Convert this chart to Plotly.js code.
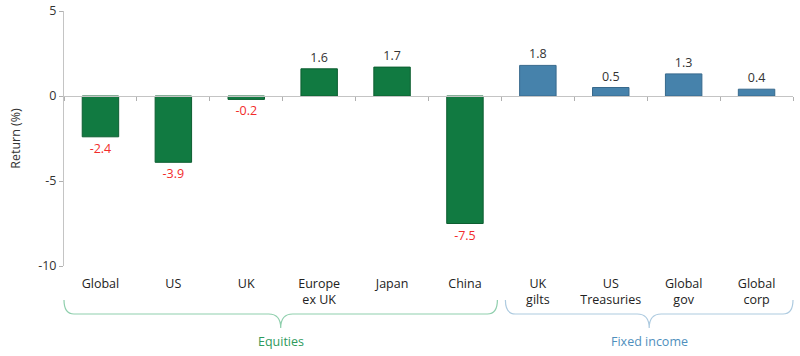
<!DOCTYPE html>
<html>
<head>
<meta charset="utf-8">
<script src="https://cdn.plot.ly/plotly-3.0.1.min.js"></script>
<style>html,body{margin:0;padding:0;background:#fff;}#chart{width:800px;height:356px;}</style>
</head>
<body>
<div id="chart"></div>
<script>
// ---- data ----
const categories = ["Global", "US", "UK", "Europe<br>ex UK", "Japan", "China", "UK<br>gilts", "US<br>Treasuries", "Global<br>gov", "Global<br>corp"];
const returns = [-2.4, -3.9, -0.2, 1.6, 1.7, -7.5, 1.8, 0.5, 1.3, 0.4];
const groups = ["Equities", "Equities", "Equities", "Equities", "Equities", "Equities", "Fixed income", "Fixed income", "Fixed income", "Fixed income"];
const groupNames = ["Equities", "Fixed income"];
const yTicks = [5, 0, -5, -10];

// ---- styles ----
const groupColor = {"Equities": "#117a41", "Fixed income": "#4682ab"};
const groupLine = {"Equities": "#0d5e31", "Fixed income": "#37698c"};
const braceColor = {"Equities": "#8fcfad", "Fixed income": "#aecbe0"};
const braceText = {"Equities": "#2e9a5c", "Fixed income": "#4f8fbd"};

const W = 800, H = 356, ML = 64, MR = 7, MT = 11, MB = 90;
const plotW = W - ML - MR, plotH = H - MT - MB;
const px2x = p => (p - ML) / plotW;
const px2y = p => (H - MB - p) / plotH;

const barTrace = {
  type: "bar",
  x: categories,
  y: returns,
  marker: {
    color: groups.map(g => groupColor[g]),
    line: {color: groups.map(g => groupLine[g]), width: 1}
  },
  text: returns.map(v => v.toFixed(1)),
  textposition: "outside",
  cliponaxis: false,
  textfont: {family: "Open Sans, sans-serif", size: 12.5, color: returns.map(v => v < 0 ? "#f22b2b" : "#333333")},
  hoverinfo: "x+y",
  showlegend: false
};
// helper trace so that the zero-line axis with boundary ticks is drawn
const zeroAxisTrace = {
  type: "scatter", mode: "markers", x: categories, y: categories.map(() => null),
  xaxis: "x2", yaxis: "y", showlegend: false, hoverinfo: "skip"
};

// braces
const shapes = [];
const annotations = [];
const nCat = categories.length;
groupNames.forEach(g => {
  const idx = groups.map((gg, i) => gg === g ? i : -1).filter(i => i >= 0);
  const first = idx[0], last = idx[idx.length - 1];
  let x0 = ML + plotW * first / nCat;
  let x1 = ML + plotW * (last + 1) / nCat;
  if (first > 0) x0 += 4;
  if (last < nCat - 1) x1 -= 4;
  const mid = (x0 + x1) / 2;
  const yTop = 300, yLine = 314, yPt = 328, r = 10, r2 = 12;
  const P = (x, y) => px2x(x).toFixed(5) + "," + px2y(y).toFixed(5);
  const path = "M" + P(x0, yTop) +
    " Q" + P(x0, yLine) + " " + P(x0 + r, yLine) +
    " L" + P(mid - r2, yLine) +
    " Q" + P(mid, yLine) + " " + P(mid, yPt) +
    " Q" + P(mid, yLine) + " " + P(mid + r2, yLine) +
    " L" + P(x1 - r, yLine) +
    " Q" + P(x1, yLine) + " " + P(x1, yTop);
  shapes.push({type: "path", xref: "paper", yref: "paper", path: path, line: {color: braceColor[g], width: 1.2}});
  annotations.push({xref: "paper", yref: "paper", x: px2x(mid), y: px2y(341), text: g, showarrow: false,
    xanchor: "center", yanchor: "middle", font: {family: "Open Sans, sans-serif", size: 12.5, color: braceText[g]}});
});

const layout = {
  width: W, height: H,
  margin: {l: ML, r: MR, t: MT, b: MB},
  paper_bgcolor: "#ffffff", plot_bgcolor: "#ffffff",
  font: {family: "Open Sans, sans-serif", size: 12.5, color: "#333333"},
  bargap: 0.5,
  showlegend: false,
  xaxis: {
    type: "category", categoryorder: "array", categoryarray: categories,
    showline: false, ticks: "", showgrid: false, zeroline: false,
    tickfont: {family: "Open Sans, sans-serif", size: 12.5, color: "#222222"},
    ticklabelstandoff: 8,
    range: [-0.5, nCat - 0.5], fixedrange: true
  },
  xaxis2: {
    type: "category", categoryorder: "array", categoryarray: categories,
    overlaying: "x", anchor: "free", position: 10 / 15,
    range: [-0.5, nCat - 0.5], side: "bottom",
    showline: true, linecolor: "#c4c4c4", linewidth: 1,
    ticks: "outside", tickson: "boundaries", ticklen: 4, tickcolor: "#b0b0b0",
    showticklabels: false, showgrid: false, zeroline: false
  },
  yaxis: {
    range: [-10, 5], tickvals: yTicks, ticktext: yTicks.map(String),
    showline: true, linecolor: "#c4c4c4", linewidth: 1,
    ticks: "outside", ticklen: 4, tickcolor: "#b0b0b0",
    showgrid: false, zeroline: false,
    tickfont: {family: "Open Sans, sans-serif", size: 12.5, color: "#333333"},
    title: {text: "Return (%)", standoff: 14, font: {family: "Open Sans, sans-serif", size: 12.5, color: "#333333"}}
  },
  shapes: shapes,
  annotations: annotations
};

Plotly.newPlot("chart", [barTrace, zeroAxisTrace], layout, {displayModeBar: false, staticPlot: true});
</script>
</body>
</html>
